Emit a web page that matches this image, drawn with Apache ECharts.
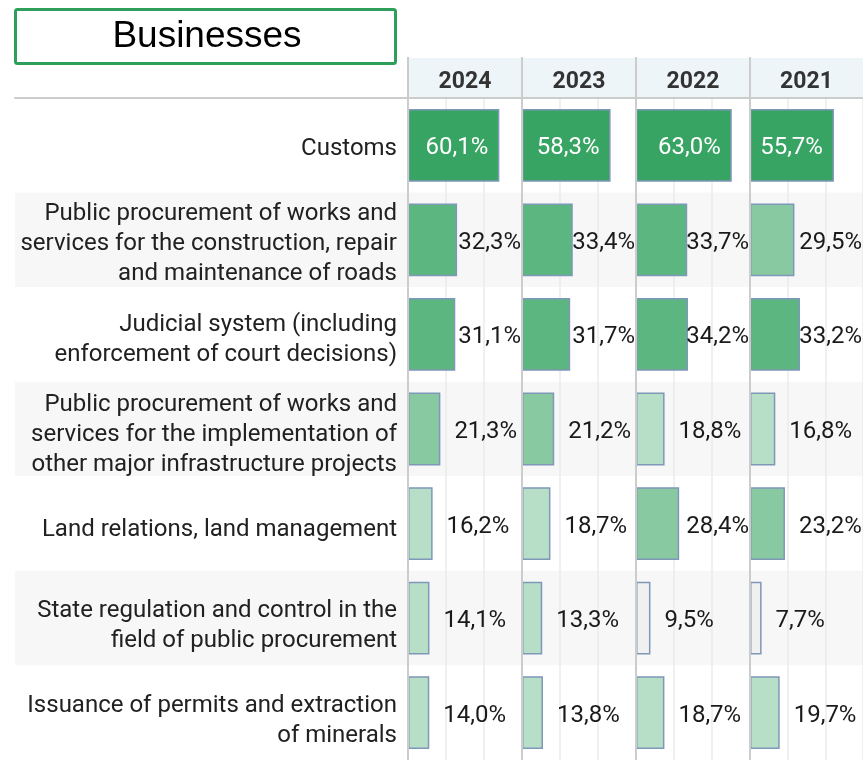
<!DOCTYPE html>
<html>
<head>
<meta charset="utf-8">
<script src="https://cdn.jsdelivr.net/npm/echarts@6/dist/echarts.min.js"></script>
<style>html,body{margin:0;padding:0;background:#fff;}#c{width:863px;height:760px;}</style>
</head>
<body>
<div id="c"></div>
<script>
// ---- data ----
const title = 'Businesses';
const years = ['2024', '2023', '2022', '2021'];
const categories = [
  'Customs',
  'Public procurement of works and\nservices for the construction, repair\nand maintenance of roads',
  'Judicial system (including\nenforcement of court decisions)',
  'Public procurement of works and\nservices for the implementation of\nother major infrastructure projects',
  'Land relations, land management',
  'State regulation and control in the\nfield of public procurement',
  'Issuance of permits and extraction\nof minerals'
];
const values2024 = [60.1, 32.3, 31.1, 21.3, 16.2, 14.1, 14.0];
const values2023 = [58.3, 33.4, 31.7, 21.2, 18.7, 13.3, 13.8];
const values2022 = [63.0, 33.7, 34.2, 18.8, 28.4, 9.5, 18.7];
const values2021 = [55.7, 29.5, 33.2, 16.8, 23.2, 7.7, 19.7];
const seriesValues = [values2024, values2023, values2022, values2021];
const axisMax = 75, axisInterval = 25;

// ---- layout / style ----
const gridTop = 98, gridHeight = 664;
const gridLefts = [408, 522, 636, 750];
const gridWidths = [114, 114, 114, 113];
const FONT = 'Roboto, "Noto Sans", sans-serif';

function colorFor(v) {
  if (v >= 50) return '#38a463';
  if (v >= 30) return '#5bb77f';
  if (v >= 20) return '#88c9a1';
  if (v >= 10) return '#b7dfc8';
  return '#f0f0f0';
}
function fmt(v) { return v.toFixed(1).replace('.', ',') + '%'; }

const chart = echarts.init(document.getElementById('c'), null, {renderer: 'canvas'});

// grid 0: row background bands + header rule
const grids = [{left: 15, right: 0, top: gridTop, height: gridHeight}];
const xAxes = [{
  gridIndex: 0, type: 'value', position: 'top', min: 0, max: 1,
  axisLine: {show: true, lineStyle: {color: '#cccccc', width: 2}},
  axisTick: {show: false}, axisLabel: {show: false}, splitLine: {show: false}
}];
const yAxes = [{
  gridIndex: 0, type: 'category', data: categories, inverse: true,
  axisLine: {show: false}, axisTick: {show: false}, axisLabel: {show: false},
  splitArea: {show: true, areaStyle: {color: ['#ffffff', '#f7f7f7']}}
}];
// grid 1: category labels (label centres from first to last row)
grids.push({left: gridLefts[0], width: gridWidths[0], top: 149, height: 572});
xAxes.push({gridIndex: 1, type: 'value', show: false, min: 0, max: 1});
yAxes.push({
  gridIndex: 1, type: 'category', data: categories, inverse: true, boundaryGap: false,
  axisLine: {show: false}, axisTick: {show: false}, splitLine: {show: false},
  axisLabel: {show: true, margin: 11, fontFamily: FONT, fontSize: 24, lineHeight: 30,
    color: '#212121', align: 'right', interval: 0}
});

const series = [];
years.forEach((y, i) => {
  const gi = i + 2;
  grids.push({left: gridLefts[i], width: gridWidths[i], top: gridTop, height: gridHeight});
  xAxes.push({
    gridIndex: gi, type: 'value', position: 'top', min: 0, max: axisMax, interval: axisInterval,
    name: y, nameLocation: 'middle', nameGap: 4,
    nameTextStyle: {fontFamily: FONT, fontWeight: 'bold', fontSize: 23, color: '#333333'},
    axisLine: {show: false}, axisTick: {show: false}, axisLabel: {show: false},
    splitLine: {show: true, lineStyle: {color: '#ebebeb', width: 1.5}}
  });
  yAxes.push({
    gridIndex: gi, type: 'category', data: categories, inverse: true,
    axisLine: {show: false}, axisTick: {show: false}, axisLabel: {show: false}
  });
  series.push({
    type: 'bar', xAxisIndex: gi, yAxisIndex: gi, barCategoryGap: '23%',
    data: seriesValues[i].map(v => ({
      value: v,
      itemStyle: {color: colorFor(v)},
      label: v >= 50 ? {position: 'insideRight', distance: 10, color: '#ffffff'} : {position: 'right', color: '#1a1a1a'}
    })),
    itemStyle: {borderColor: '#7f97b8', borderWidth: 1.5},
    label: {show: true, fontFamily: FONT, fontSize: 24, formatter: p => fmt(p.value)},
    labelLayout: function (p) {
      const v = seriesValues[i][p.dataIndex];
      const right = gridLefts[i] + gridWidths[i];
      const w = p.labelRect.width;
      const cy = p.rect.y + p.rect.height / 2 + 3;
      if (v >= 50) {
        return {x: p.rect.x + p.rect.width - 11 - w, y: cy, align: 'left', verticalAlign: 'middle'};
      }
      const x = Math.min(p.rect.x + p.rect.width + 14, right - 1 - w);
      return {x: x, y: cy, align: 'left', verticalAlign: 'middle'};
    },
    silent: true
  });
});

const graphics = [
  {type: 'rect', shape: {x: gridLefts[0], y: 58, width: 863 - gridLefts[0], height: 40}, style: {fill: '#eef5f9'}, z: -1},
  {type: 'rect', shape: {x: 15.5, y: 9.5, width: 380, height: 54, r: 2}, style: {fill: '#ffffff', stroke: '#2e9e5b', lineWidth: 3}},
  {type: 'text', x: 207, y: 37, style: {text: title, fontFamily: '"Liberation Sans", Arial, sans-serif', fontSize: 37, fill: '#000000', align: 'center', verticalAlign: 'middle'}}
];
gridLefts.forEach(x => {
  graphics.push({type: 'line', shape: {x1: x, y1: 57, x2: x, y2: 760}, style: {stroke: '#cccccc', lineWidth: 2}, z: 5});
});

chart.setOption({
  animation: false,
  backgroundColor: '#ffffff',
  grid: grids, xAxis: xAxes, yAxis: yAxes, series: series,
  graphic: graphics
});
</script>
</body>
</html>
